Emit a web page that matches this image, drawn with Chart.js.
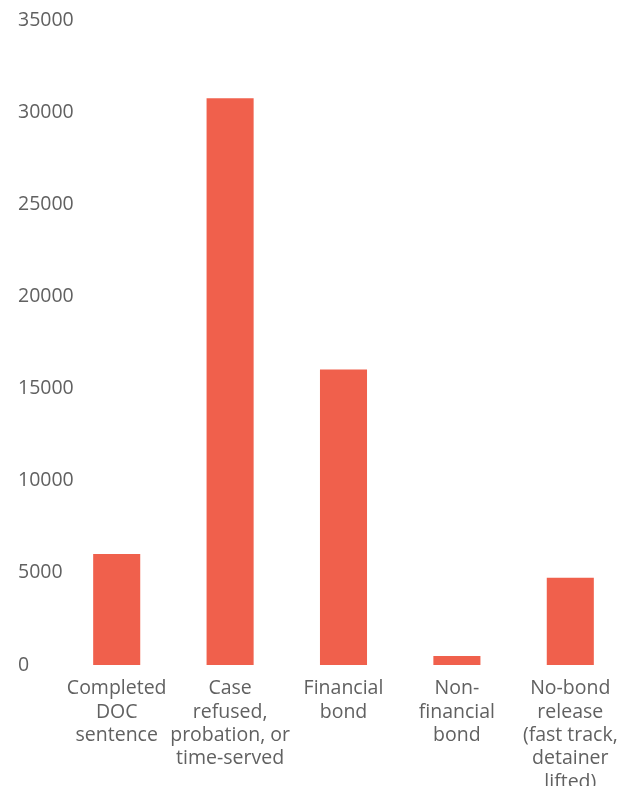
<!DOCTYPE html>
<html>
<head>
<meta charset="utf-8">
<script src="https://cdn.jsdelivr.net/npm/chart.js@4"></script>
<style>
  html, body { margin: 0; padding: 0; background: #fff; overflow: hidden; }
  #wrap { position: relative; width: 631px; height: 800px; }
</style>
</head>
<body>
<div id="wrap"><canvas id="releaseChart"></canvas></div>
<script>
// Outcome categories (multi-line labels) and counts
const categories = [
  ['Completed', 'DOC', 'sentence'],
  ['Case', 'refused,', 'probation, or', 'time-served'],
  ['Financial', 'bond'],
  ['Non-', 'financial', 'bond'],
  ['No-bond', 'release', '(fast track,', 'detainer', 'lifted)']
];
const counts = [6030, 30760, 16030, 490, 4730];
const yTicks = [0, 5000, 10000, 15000, 20000, 25000, 30000, 35000];

const textColor = '#616161';
const barColor = '#f0604c';
const fontFamily = '"Open Sans", sans-serif';

const ctx = document.getElementById('releaseChart').getContext('2d');
new Chart(ctx, {
  type: 'bar',
  data: {
    labels: categories,
    datasets: [{
      data: counts,
      backgroundColor: barColor,
      borderWidth: 0,
      categoryPercentage: 1,
      barPercentage: 0.415
    }]
  },
  options: {
    responsive: true,
    maintainAspectRatio: false,
    animation: false,
    layout: { padding: { left: 18, right: 4, top: 20, bottom: 0 } },
    plugins: {
      legend: { display: false },
      tooltip: { enabled: false }
    },
    scales: {
      x: {
        grid: { display: false },
        border: { display: false },
        ticks: {
          color: textColor,
          font: { family: fontFamily, size: 19.5 },
          lineHeight: 1.22,
          padding: 4,
          maxRotation: 0,
          autoSkip: false
        },
        afterFit: (scale) => { scale.height = 135; }
      },
      y: {
        min: 0,
        max: 35000,
        grid: { display: false },
        border: { display: false },
        afterBuildTicks: (scale) => {
          scale.ticks = yTicks.map(v => ({ value: v }));
        },
        ticks: {
          color: textColor,
          font: { family: fontFamily, size: 19.5 },
          // mirrored so the labels can run over the plot's left edge unclipped
          mirror: true,
          padding: -42,
          callback: (v) => String(v)
        },
        afterFit: (scale) => { scale.width = 42; }
      }
    }
  }
});
</script>
</body>
</html>
